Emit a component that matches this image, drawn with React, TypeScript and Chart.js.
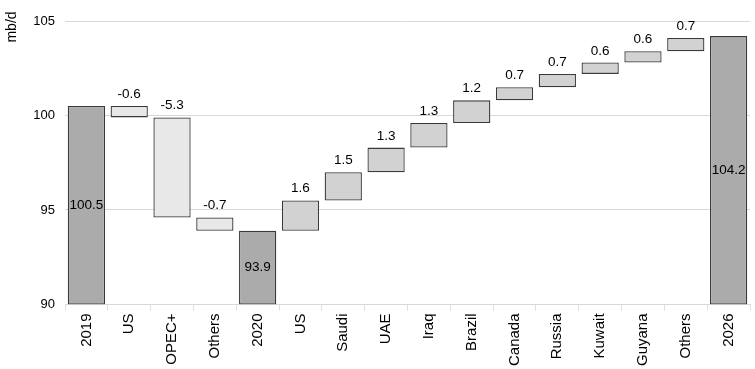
import React, { useEffect, useRef } from "react";
import { Chart, registerables } from "chart.js";

Chart.register(...registerables);

const categories = ["2019", "US", "OPEC+", "Others", "2020", "US", "Saudi", "UAE", "Iraq", "Brazil", "Canada", "Russia", "Kuwait", "Guyana", "Others", "2026"];
const totals: (number | null)[] = [100.5, null, null, null, 93.9, null, null, null, null, null, null, null, null, null, null, 104.2];
const changes: (number | null)[] = [null, -0.6, -5.3, -0.7, null, 1.6, 1.5, 1.3, 1.3, 1.2, 0.7, 0.7, 0.6, 0.6, 0.7, null];
const yTicks = [90, 95, 100, 105];
const unitLabel = "mb/d";

const Y_MIN = yTicks[0];
const Y_MAX = yTicks[yTicks.length - 1];

const FONT = "'Liberation Sans', Arial, sans-serif";

export default function App() {
  const ref = useRef<HTMLCanvasElement | null>(null);

  useEffect(() => {
    document.body.style.margin = "0";
    const canvas = ref.current;
    if (!canvas) return;

    const floating: [number, number][] = [];
    const colors: string[] = [];
    let running = 0;
    categories.forEach((_, i) => {
      const t = totals[i];
      const c = changes[i];
      if (t !== null && t !== undefined) {
        floating.push([Y_MIN, t]);
        running = t;
        colors.push("#ababab");
      } else {
        const d = c as number;
        floating.push([running, running + d]);
        running = running + d;
        colors.push(d < 0 ? "#e8e8e8" : "#d2d2d2");
      }
    });

    const labelPlugin = {
      id: "wfLabels",
      afterDatasetsDraw(chart: any) {
        const ctx = chart.ctx;
        const meta = chart.getDatasetMeta(0);
        ctx.save();
        ctx.fillStyle = "#000";
        ctx.font = `13.5px ${FONT}`;
        ctx.textAlign = "center";
        meta.data.forEach((el: any, i: number) => {
          const top = Math.min(el.y, el.base);
          const bottom = Math.max(el.y, el.base);
          const t = totals[i];
          if (t !== null && t !== undefined) {
            ctx.textBaseline = "middle";
            ctx.fillText(t.toFixed(1), el.x, (top + bottom) / 2);
          } else {
            const c = changes[i] as number;
            ctx.textBaseline = "bottom";
            ctx.fillText(c.toFixed(1), el.x, top - 5);
          }
        });
        // unit label, rotated, top-left
        ctx.save();
        ctx.translate(12, 27);
        ctx.rotate(-Math.PI / 2);
        ctx.font = `14px ${FONT}`;
        ctx.textBaseline = "middle";
        ctx.textAlign = "center";
        ctx.fillText(unitLabel, 0, 0);
        ctx.restore();
        ctx.restore();
      },
    };

    const chart = new Chart(canvas, {
      type: "bar",
      data: {
        labels: categories,
        datasets: [
          {
            data: floating as any,
            backgroundColor: colors,
            borderColor: "#3a3a3a",
            borderWidth: 1.3,
            borderSkipped: false,
            barPercentage: 0.87,
            categoryPercentage: 1,
          },
        ],
      },
      options: {
        responsive: false,
        animation: false,
        layout: { padding: { top: 21, right: 5, bottom: 0, left: 0 } },
        plugins: {
          legend: { display: false },
          tooltip: { enabled: false },
        },
        scales: {
          x: {
            offset: true,
            grid: {
              display: true,
              drawOnChartArea: false,
              offset: true,
              tickLength: 6,
              color: "#e0e0e0",
            },
            border: { display: true, color: "#d9d9d9" },
            ticks: {
              autoSkip: false,
              minRotation: 90,
              maxRotation: 90,
              color: "#000",
              padding: 3,
              font: { family: FONT, size: 15 },
            },
          },
          y: {
            min: Y_MIN,
            max: Y_MAX,
            afterBuildTicks: (scale: any) => {
              scale.ticks = yTicks.map((v) => ({ value: v }));
            },
            afterFit: (scale: any) => {
              scale.width = 65;
            },
            grid: { color: "#d9d9d9", drawTicks: false },
            border: { display: false },
            ticks: {
              color: "#000",
              padding: 10,
              font: { family: FONT, size: 13 },
            },
          },
        },
      },
      plugins: [labelPlugin],
    });

    return () => chart.destroy();
  }, []);

  return (
    <div style={{ width: 755, height: 369 }}>
      <canvas ref={ref} width={755} height={369} />
    </div>
  );
}
